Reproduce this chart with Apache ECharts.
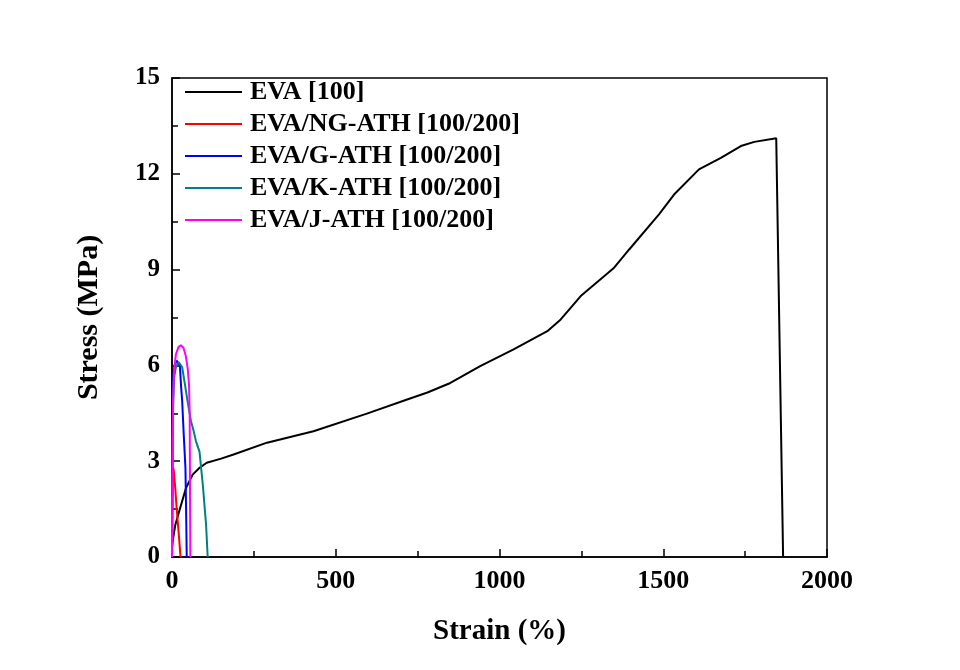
<!DOCTYPE html>
<html>
<head>
<meta charset="utf-8">
<script src="https://cdn.jsdelivr.net/npm/echarts@6/dist/echarts.min.js"></script>
<style>html,body{margin:0;padding:0;background:#fff}#c{width:960px;height:670px}</style>
</head>
<body>
<div id="c"></div>
<script>
const seriesNames = ['EVA [100]', 'EVA/NG-ATH [100/200]', 'EVA/G-ATH [100/200]', 'EVA/K-ATH [100/200]', 'EVA/J-ATH [100/200]'];
const seriesColors = ['#000000', '#ff0000', '#0000ff', '#008080', '#ff00ff'];
const xTicks = [0, 500, 1000, 1500, 2000];
const yTicks = [0, 3, 6, 9, 12, 15];

// [strain %, stress MPa]
const eva = [[0,0.3],[2,0.5],[10,1.0],[22,1.43],[43,2.17],[63,2.58],[85,2.8],[106,2.95],[150,3.08],[188,3.21],[290,3.58],[432,3.94],[595,4.49],[718,4.93],[780,5.15],[850,5.45],[941,5.98],[1043,6.5],[1146,7.07],[1187,7.44],[1248,8.17],[1350,9.06],[1396,9.63],[1487,10.73],[1533,11.35],[1609,12.14],[1676,12.5],[1737,12.87],[1778,13.0],[1845,13.11],[1866,0]];
const ngAth = [[0,0],[1,1.5],[2,2.4],[4,2.79],[6,2.65],[10,2.15],[14,1.55],[18,1.05],[22,0.55],[26,0]];
const gAth = [[0,0],[1,2.2],[2,4.3],[4,5.6],[8,6.0],[14,6.15],[20,6.2],[24,6.0],[28,5.3],[31,4.9],[36,3.8],[41,2.8],[43,1.5],[45,0]];
const kAth = [[0,0],[1,2.0],[3,4.5],[6,5.6],[12,5.95],[20,6.1],[25,6.13],[31,5.95],[38,5.5],[48,4.85],[58,4.25],[66,3.95],[73,3.63],[84,3.3],[94,2.27],[104,1.02],[109,0]];
const jAth = [[0,0],[1,1.5],[2,3.5],[3,4.8],[6,5.8],[12,6.35],[20,6.58],[27,6.63],[35,6.55],[42,6.3],[48,5.9],[52,5.4],[54,4.5],[55,2.0],[56,0]];
const allData = [eva, ngAth, gAth, kAth, jAth];

const FONT = '"Liberation Serif", "Times New Roman", serif';
const chart = echarts.init(document.getElementById('c'), null, {renderer: 'canvas'});
chart.setOption({
  animation: false,
  backgroundColor: '#fff',
  grid: {left: 172, right: 133, top: 78, bottom: 113, show: true, borderColor: '#000', borderWidth: 1.5, backgroundColor: 'transparent'},
  legend: {
    orient: 'vertical', left: 185, top: 79, padding: 0, itemWidth: 57, itemHeight: 2, itemGap: 6,
    icon: 'rect',
    data: seriesNames.map((n, i) => ({name: n, itemStyle: {color: seriesColors[i]}})),
    textStyle: {fontFamily: FONT, fontWeight: 'bold', fontSize: 26, color: '#000', padding: [0, 0, 0, 3]}
  },
  xAxis: {
    type: 'value', min: xTicks[0], max: xTicks[xTicks.length-1], interval: 500,
    name: 'Strain (%)', nameLocation: 'middle', nameGap: 60,
    nameTextStyle: {fontFamily: FONT, fontWeight: 'bold', fontSize: 29, color: '#000'},
    axisLine: {lineStyle: {color: '#000', width: 1.5}},
    axisTick: {inside: true, length: 8, lineStyle: {color: '#000', width: 1.5}},
    minorTick: {show: true, splitNumber: 2, length: 6, lineStyle: {color: '#000', width: 1.5}},
    splitLine: {show: false},
    axisLabel: {fontFamily: FONT, fontWeight: 'bold', fontSize: 26, color: '#000', margin: 11, formatter: v => String(v)}
  },
  yAxis: {
    type: 'value', min: yTicks[0], max: yTicks[yTicks.length-1], interval: 3,
    name: 'Stress (MPa)', nameLocation: 'middle', nameGap: 68, nameRotate: 90,
    nameTextStyle: {fontFamily: FONT, fontWeight: 'bold', fontSize: 30, color: '#000'},
    axisLine: {lineStyle: {color: '#000', width: 1.5}},
    axisTick: {inside: true, length: 8, lineStyle: {color: '#000', width: 1.5}},
    minorTick: {show: true, splitNumber: 2, length: 6, lineStyle: {color: '#000', width: 1.5}},
    splitLine: {show: false},
    axisLabel: {fontFamily: FONT, fontWeight: 'bold', fontSize: 25, color: '#000', margin: 12, formatter: v => String(v)}
  },
  series: allData.map((d, i) => ({
    name: seriesNames[i], type: 'line', data: d, symbol: 'none', smooth: false,
    lineStyle: {color: seriesColors[i], width: 2}, itemStyle: {color: seriesColors[i]}
  }))
});
</script>
</body>
</html>
